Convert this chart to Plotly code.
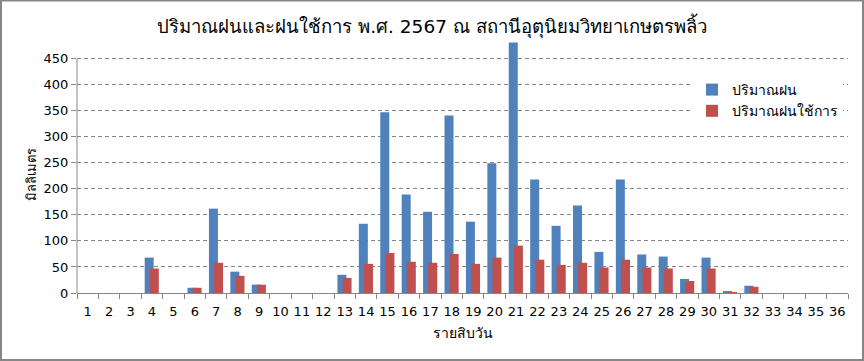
import plotly.graph_objects as go

periods = [str(i) for i in range(1, 37)]
rain = [0, 0, 0, 68, 0, 10, 162, 41, 16, 0, 0, 0, 35, 133, 347, 189, 156, 341,
        137, 249, 481, 218, 129, 168, 79, 218, 74, 70, 27, 68, 2, 14, 0, 0, 0, 0]
eff_rain = [0, 0, 0, 47, 0, 10, 58, 33, 16, 0, 0, 0, 29, 56, 77, 60, 58, 75,
            56, 68, 91, 64, 54, 58, 49, 64, 49, 47, 23, 47, 1.5, 12, 0, 0, 0, 0]
y_ticks = [0, 50, 100, 150, 200, 250, 300, 350, 400, 450]

title_text = "ปริมาณฝนและฝนใช้การ พ.ศ. 2567 ณ สถานีอุตุนิยมวิทยาเกษตรพลิ้ว"
series_names = ["ปริมาณฝน", "ปริมาณฝนใช้การ"]
x_title = "รายสิบวัน"
y_title = "มิลลิเมตร"

FONT = "Tahoma, 'DejaVu Sans', 'Noto Sans', sans-serif"
GRAY = "#868686"

T, B, L, R = 41, 68, 77, 16
PH = 361 - T - B
PW = 864 - L - R

fig = go.Figure()
fig.add_trace(go.Bar(x=periods, y=rain, name=series_names[0], marker_color="#4F81BD",
                     marker_line_width=0, width=0.42, offset=-0.34))
fig.add_trace(go.Bar(x=periods, y=eff_rain, name=series_names[1], marker_color="#C0504D",
                     marker_line_width=0, width=0.42, offset=-0.10))

fig.update_layout(
    width=864, height=361,
    margin=dict(l=L, r=R, t=T, b=B, autoexpand=False),
    paper_bgcolor="white", plot_bgcolor="white",
    barmode="overlay",
    font=dict(family=FONT, size=13, color="black"),
    title=dict(text=title_text, x=0.5, xanchor="center", y=1 - 27 / 361, yref="container",
               yanchor="middle", font=dict(size=18.5, family=FONT, color="black")),
    showlegend=True,
    legend=dict(x=(692 - L) / PW, y=(293 - 74) / PH, xanchor="left", yanchor="top",
                bgcolor="white", font=dict(size=14), itemwidth=30, tracegroupgap=4),
    xaxis=dict(type="category", tickson="boundaries", ticks="outside", ticklen=5,
               tickcolor=GRAY, showline=True, linecolor=GRAY, linewidth=1,
               showgrid=False, tickangle=0, automargin=False, ticklabelstandoff=6,
               tickfont=dict(size=13)),
    yaxis=dict(range=[0, 484], tickvals=y_ticks, ticks="outside", ticklen=5, tickcolor=GRAY,
               showline=False, automargin=False,
               showgrid=True, gridcolor=GRAY, griddash="4px,3px", gridwidth=1,
               zeroline=False, tickfont=dict(size=13)),
    annotations=[
        dict(text=x_title, xref="paper", yref="paper", x=0.5, y=(293 - 333) / PH,
             xanchor="center", yanchor="middle", showarrow=False, font=dict(size=14)),
        dict(text=y_title, xref="paper", yref="paper", x=(31 - L) / PW, y=(293 - 175) / PH,
             xanchor="center", yanchor="middle", showarrow=False, textangle=-90,
             font=dict(size=13)),
    ],
)

# y-axis line up to the last tick
fig.add_shape(type="line", xref="paper", yref="y", x0=0, x1=0, y0=0, y1=y_ticks[-1],
              line=dict(color=GRAY, width=1), layer="above")

# chart border
fig.add_shape(type="rect", xref="paper", yref="paper",
              x0=-(L - 1) / PW, x1=(863 - L) / PW, y0=(293 - 360) / PH, y1=(293 - 0.5) / PH,
              line=dict(color=GRAY, width=2), fillcolor="rgba(0,0,0,0)", layer="above")

fig.write_html("out.html", config={"displayModeBar": False},
               post_script="document.body.style.margin='0';")
